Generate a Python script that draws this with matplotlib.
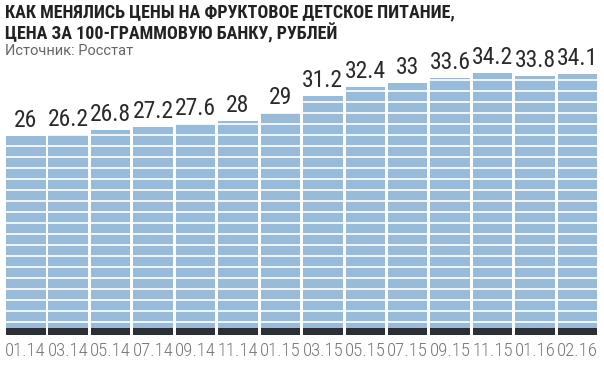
import numpy as np
import matplotlib
matplotlib.use("Agg")
import matplotlib.pyplot as plt

# data
months = ["01.14", "03.14", "05.14", "07.14", "09.14", "11.14", "01.15",
          "03.15", "05.15", "07.15", "09.15", "11.15", "01.16", "02.16"]
prices = [26, 26.2, 26.8, 27.2, 27.6, 28, 29, 31.2, 32.4, 33, 33.6, 34.2, 33.8, 34.1]
value_labels = ["26", "26.2", "26.8", "27.2", "27.6", "28", "29",
                "31.2", "32.4", "33", "33.6", "34.2", "33.8", "34.1"]

title = "КАК МЕНЯЛИСЬ ЦЕНЫ НА ФРУКТОВОЕ ДЕТСКОЕ ПИТАНИЕ,\nЦЕНА ЗА 100-ГРАММОВУЮ БАНКУ, РУБЛЕЙ"
source = "Источник: Росстат"

bar_color = "#97bbd9"
dark_color = "#2b2f36"
narrow = ["Roboto Condensed", "DejaVu Sans"]

W, H = 604, 370
px_per_unit = 7.65
fig = plt.figure(figsize=(W / 100, H / 100), dpi=100)
ax_bottom, ax_top = 35, 310  # pixels from bottom
ax = fig.add_axes([0, ax_bottom / H, 1, (ax_top - ax_bottom) / H])

x = np.arange(len(prices))
step_px = 42.44
x0_px = 25.75
ax.set_xlim(-x0_px / step_px, (W - x0_px) / step_px)
ax.set_ylim(0, (ax_top - ax_bottom) / px_per_unit)

width = 39.5 / step_px
ax.bar(x, prices, width=width, color=bar_color, zorder=1)
ax.bar(x, [0.85] * len(prices), width=width, color=dark_color, zorder=3)

# white stripes across the bars
stripes = np.arange(13, 300, 11) / px_per_unit
ax.hlines(stripes, -1, len(prices) + 1, colors="white", linewidth=1.2, zorder=2)

for xi, v, lab in zip(x, prices, value_labels):
    ax.text(xi, v + 4 / px_per_unit, lab, ha="center", va="bottom",
            fontsize=17, color="#2a2a2a", family=narrow, fontstretch="condensed",
            zorder=4)

ax.set_xticks(x)
ax.set_xticklabels(months, fontsize=13.5, color="#777777", family=narrow,
                   fontstretch="condensed", fontweight="light")
ax.tick_params(axis="x", length=0, pad=5)
ax.set_yticks([])
for s in ax.spines.values():
    s.set_visible(False)

fig.text(5 / W, 1 - 3 / H, title, ha="left", va="top", fontsize=13,
         fontweight="bold", color="#222222", family=narrow, fontstretch="condensed",
         linespacing=1.12)
fig.text(5 / W, 1 - 44 / H, source, ha="left", va="top", fontsize=10.5,
         color="#666666", family=["Roboto", "DejaVu Sans"])

fig.savefig("out.png", dpi=100)
